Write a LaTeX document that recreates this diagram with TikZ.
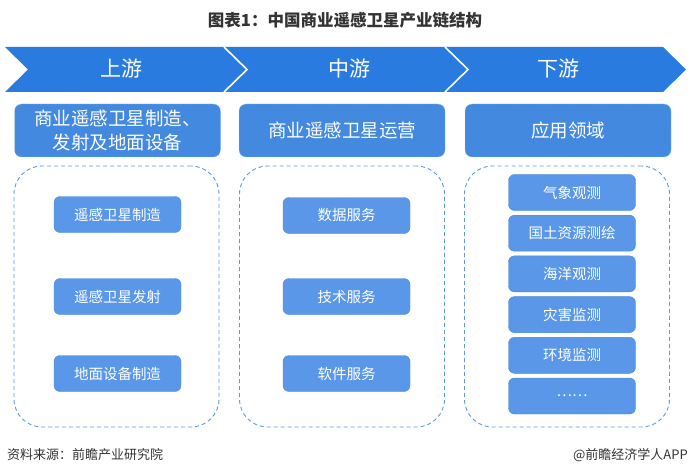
\documentclass[tikz,border=0pt]{standalone}
\usepackage{fontspec}
\setmainfont{Noto Sans CJK SC}
\definecolor{bandblue}{RGB}{41,123,224}
\definecolor{headblue}{RGB}{67,137,224}
\definecolor{itemblue}{RGB}{90,151,232}
\definecolor{itemedge}{RGB}{72,137,226}
\definecolor{frameblue}{RGB}{92,152,232}
\definecolor{textgray}{RGB}{51,51,51}
\tikzset{
  headbox/.style={fill=headblue,draw=white!55!headblue,dash pattern=on 2pt off 1.5pt,rounded corners=7pt,
    minimum width=206pt,minimum height=53pt,inner sep=0pt,text=white,align=center,
    font=\fontsize{18.5}{23.5}\selectfont},
  itembox/.style={fill=itemblue,draw=itemedge,rounded corners=6pt,minimum width=127pt,
    minimum height=36pt,inner sep=0pt,text=white,font=\fontsize{14.5}{17}\selectfont},
  framebox/.style={draw=frameblue,dash pattern=on 4pt off 3pt,line width=0.9pt,rounded corners=28pt,
    minimum width=205pt,minimum height=261pt},
  steplabel/.style={text=white,font=\fontsize{21}{24}\selectfont},
  footnote/.style={text=textgray,font=\fontsize{13}{15}\selectfont,inner sep=0pt}
}
\begin{document}
\begin{tikzpicture}[x=1pt,y=-1pt]
\useasboundingbox (0,0) rectangle (691,476);
\node[text=textgray,font=\bfseries\fontsize{16.5}{20}\selectfont] (title) at (345,20) {图表1：中国商业遥感卫星产业链结构};
% chevron band
\foreach \x/\w in {5/219,224/221,445/218}
	\fill[bandblue] (\x,47) -- ++(\w,0) -- ++(23,22.5) -- ++(-23,22.5) -- ++(-\w,0) -- ++(23,-22.5) -- cycle;
\foreach \x in {224,445}
	\draw[white,line width=1.6pt] (\x,47) -- ++(23,22.5) -- ++(-23,22.5);
\node[steplabel] (up) at (121,69) {上游};
\node[steplabel] (mid) at (349,69) {中游};
\node[steplabel] (down) at (558,69) {下游};
% head boxes
\node[headbox] (upmain) at (117.5,130.5) {商业遥感卫星制造、\\发射及地面设备};
\node[headbox] (midmain) at (342,130.5) {商业遥感卫星运营};
\node[headbox] (downmain) at (568,130.5) {应用领域};
% dashed frames
\node[framebox] (upframe) at (116.5,296.5) {};
\node[framebox] (midframe) at (342,296.5) {};
\node[framebox] (downframe) at (567,296.5) {};
% items
\foreach \y/\lab [count=\i] in {214.5/遥感卫星制造,296.5/遥感卫星发射,373.5/地面设备制造}
	\node[itembox] (upitem\i) at (117.5,\y) {\lab};
\foreach \y/\lab [count=\i] in {215.5/数据服务,296.5/技术服务,373.5/软件服务}
	\node[itembox] (miditem\i) at (346.5,\y) {\lab};
\foreach \lab [count=\i] in {气象观测,国土资源测绘,海洋观测,灾害监测,环境监测,……}
	\node[itembox] (downitem\i) at (572,{192.5+40.7*(\i-1)}) {\lab};
% footer
\node[footnote,anchor=west] (source) at (7,455) {资料来源：前瞻产业研究院};
\node[footnote,anchor=east] (brand) at (688,455) {@前瞻经济学人APP};
\end{tikzpicture}
\end{document}
